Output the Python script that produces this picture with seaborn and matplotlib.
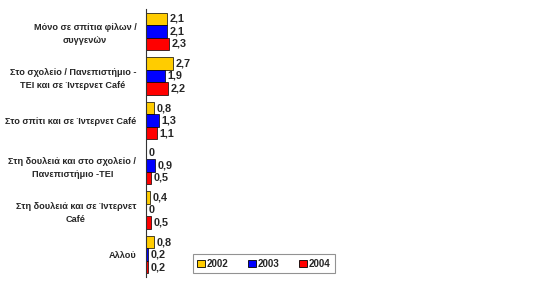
import matplotlib
matplotlib.use("Agg")
import matplotlib.pyplot as plt
import seaborn as sns
import pandas as pd
import numpy as np
from matplotlib.patches import Patch

categories = [
    "Μόνο σε σπίτια φίλων /\nσυγγενών",
    "Στο σχολείο / Πανεπιστήμιο -\nΤΕΙ και σε Ίντερνετ Café",
    "Στο σπίτι και σε Ίντερνετ Café",
    "Στη δουλειά και στο σχολείο /\nΠανεπιστήμιο -ΤΕΙ",
    "Στη δουλειά και σε Ίντερνετ\nCafé",
    "Αλλού",
]
years = ["2002", "2003", "2004"]
v2002 = [2.1, 2.7, 0.8, 0.0, 0.4, 0.8]
v2003 = [2.1, 1.9, 1.3, 0.9, 0.0, 0.2]
v2004 = [2.3, 2.2, 1.1, 0.5, 0.5, 0.2]
colors = ["#FFCC00", "#0000FF", "#FF0000"]

rows = []
for y, vals in zip(years, [v2002, v2003, v2004]):
    for c, v in zip(categories, vals):
        rows.append({"cat": c, "year": y, "val": v})
df = pd.DataFrame(rows)

sns.set_style("white")
plt.rcParams['font.family'] = ['Liberation Sans', 'DejaVu Sans']

fig = plt.figure(figsize=(5.5, 2.83), dpi=100)
ax = fig.add_axes([146/550, 1 - 277/283, 400/550, 268/283])

sns.barplot(data=df, y="cat", x="val", hue="year", hue_order=years,
            order=categories, palette=colors, saturation=1, orient="h", width=0.84,
            edgecolor="black", linewidth=0.5, errorbar=None, ax=ax, legend=False)

ax.set_xlim(0, 40)
ax.set_ylim(5.5, -0.5)
ax.set_xlabel("")
ax.set_ylabel("")
ax.set_xticks([])

for s in ["top", "right", "bottom"]:
    ax.spines[s].set_visible(False)
ax.spines["left"].set_color("#333333")
ax.spines["left"].set_linewidth(0.8)

lab_size = 6.6
ax.set_yticks(range(len(categories)))
ax.set_yticklabels(categories, fontsize=lab_size, fontweight="bold", multialignment="center",
                   linespacing=1.5)
ax.tick_params(axis="y", which="major", length=0, pad=7)
ax.set_yticks(np.arange(-0.5, len(categories), 1.0), minor=True)
ax.tick_params(axis="y", which="minor", length=3, width=0.8, color="#333333", direction="out")

for cont in ax.containers:
    labels = [f"{b.get_width():.1f}".replace(".", ",") if b.get_width() != 0 else "0" for b in cont]
    ax.bar_label(cont, labels=labels, padding=2, fontsize=7.8, fontweight="bold")

handles = [Patch(facecolor=c, edgecolor="black", linewidth=0.6) for c in colors]
leg = ax.legend(handles, years, loc="lower left", bbox_to_anchor=(193/550, 10/283),
                bbox_transform=fig.transFigure, ncol=3, fontsize=7, frameon=True,
                fancybox=False, edgecolor="#777777", handlelength=0.8, handleheight=0.8,
                handletextpad=0.2, columnspacing=2.0, borderpad=0.45, borderaxespad=0)
for t in leg.get_texts():
    t.set_fontweight("bold")
leg.get_frame().set_linewidth(0.8)

fig.savefig("out.png", dpi=100)
